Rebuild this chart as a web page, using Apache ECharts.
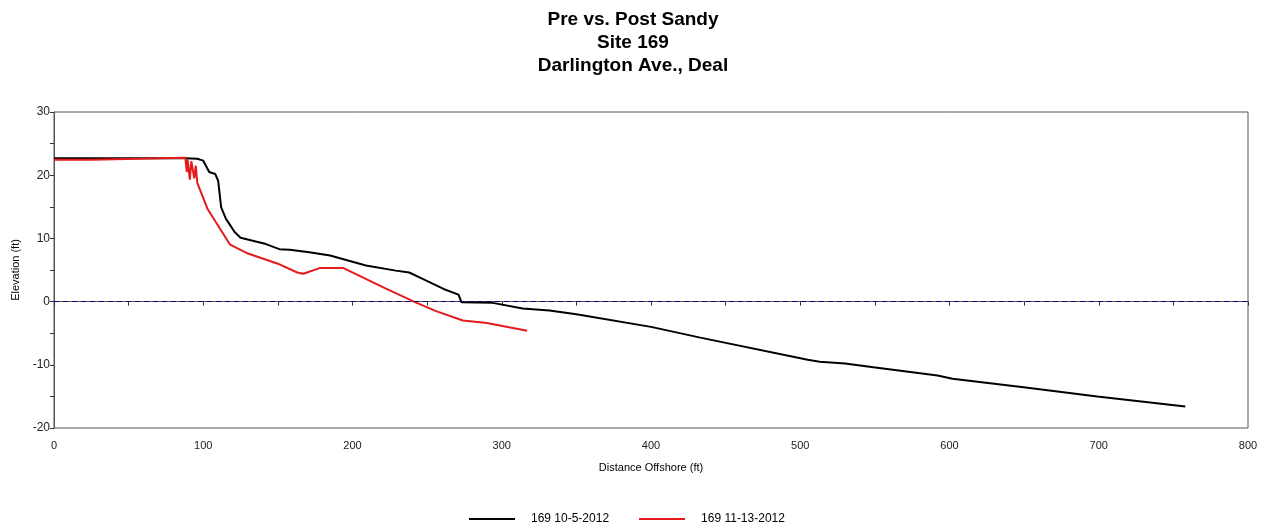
<!DOCTYPE html>
<html>
<head>
<meta charset="utf-8">
<script src="https://cdn.jsdelivr.net/npm/echarts@6/dist/echarts.min.js"></script>
<style>
  html, body { margin: 0; padding: 0; background: #fff; }
  #chart { width: 1266px; height: 531px; }
</style>
</head>
<body>
<div id="chart"></div>
<script>
// profile data: [distance offshore (ft), elevation (ft)]
var pre = [
  [0, 22.7], [88, 22.7], [96, 22.6], [100, 22.3], [104, 20.5], [108, 20.2],
  [110, 19.1], [112, 14.9], [115, 13.2], [118, 12.1], [121, 11.0], [125, 10.1],
  [142, 9.1], [151, 8.3], [158, 8.2], [171, 7.8], [185, 7.3], [209, 5.7],
  [229, 4.9], [238, 4.6], [247, 3.6], [261, 2.0], [271, 1.1], [273, -0.1],
  [294, -0.2], [314, -1.1], [332, -1.4], [350, -2.0], [400, -4.0], [433, -5.7],
  [505, -9.2], [513, -9.5], [530, -9.8], [549, -10.4], [592, -11.7], [602, -12.2],
  [651, -13.6], [699, -15.0], [758, -16.6]
];
var post = [
  [0, 22.45], [25, 22.45], [25, 22.75], [88, 22.75], [89, 20.5],
  [89.5, 22.5], [91, 19.3], [92, 22.2], [94, 19.5], [95, 21.5], [96, 18.8],
  [103, 14.6], [110, 12.0], [118, 9.0], [129, 7.7], [150, 6.0], [163, 4.6],
  [167, 4.4], [178, 5.3], [194, 5.3], [221, 2.2], [243, -0.2], [256, -1.5],
  [274, -3.0], [290, -3.4], [317, -4.6]
];
var seriesNames = ['169 10-5-2012', '169 11-13-2012'];
var titleLines = ['Pre vs. Post Sandy', 'Site 169', 'Darlington Ave., Deal'];

var chart = echarts.init(document.getElementById('chart'));
var font = 'Liberation Sans, Arial, sans-serif';

chart.setOption({
  animation: false,
  backgroundColor: '#fff',
  title: {
    text: titleLines.join('\n'),
    left: 'center',
    top: 3,
    textStyle: { fontFamily: font, fontSize: 19, fontWeight: 'bold', color: '#000', lineHeight: 23 }
  },
  grid: {
    left: 54, right: 18, top: 112, bottom: 103,
    show: true, borderColor: '#555', borderWidth: 1
  },
  legend: {
    bottom: 1,
    left: 464,
    icon: 'rect',
    itemWidth: 46,
    itemHeight: 2,
    itemGap: 30,
    textStyle: { fontFamily: font, fontSize: 12, color: '#000', padding: [0, 0, 0, 11] },
    data: seriesNames
  },
  xAxis: {
    type: 'value',
    min: 0, max: 800, interval: 50,
    name: 'Distance Offshore (ft)',
    nameLocation: 'middle',
    nameGap: 34,
    nameTextStyle: { fontFamily: font, fontSize: 11, color: '#000' },
    axisLine: { lineStyle: { color: '#555' } },
    axisTick: { length: 4, lineStyle: { color: '#333' } },
    splitLine: { show: false },
    axisLabel: {
      fontFamily: font, fontSize: 11, color: '#222', margin: 12,
      formatter: function (v) { return v % 100 === 0 ? v : ''; }
    }
  },
  yAxis: {
    type: 'value',
    min: -20, max: 30, interval: 5,
    name: 'Elevation (ft)',
    nameLocation: 'middle',
    nameGap: 32,
    nameTextStyle: { fontFamily: font, fontSize: 11, color: '#000' },
    axisLine: { show: true, lineStyle: { color: '#555' } },
    axisTick: { show: true, length: 4, lineStyle: { color: '#333' } },
    splitLine: { show: false },
    axisLabel: {
      fontFamily: font, fontSize: 12, color: '#222', margin: 4,
      formatter: function (v) { return v % 10 === 0 ? v : ''; }
    }
  },
  series: [
    {
      name: seriesNames[0],
      type: 'line',
      data: pre,
      symbol: 'none',
      lineStyle: { color: '#000', width: 2 },
      itemStyle: { color: '#000' },
      markLine: {
        silent: true,
        symbol: 'none',
        label: { show: false },
        lineStyle: { color: '#000080', type: [5, 4], width: 1 },
        data: [{ yAxis: 0 }]
      },
      z: 2
    },
    {
      name: seriesNames[1],
      type: 'line',
      data: post,
      symbol: 'none',
      lineStyle: { color: '#e41a1c', width: 2 },
      itemStyle: { color: '#e41a1c' },
      z: 3
    }
  ]
});
</script>
</body>
</html>
